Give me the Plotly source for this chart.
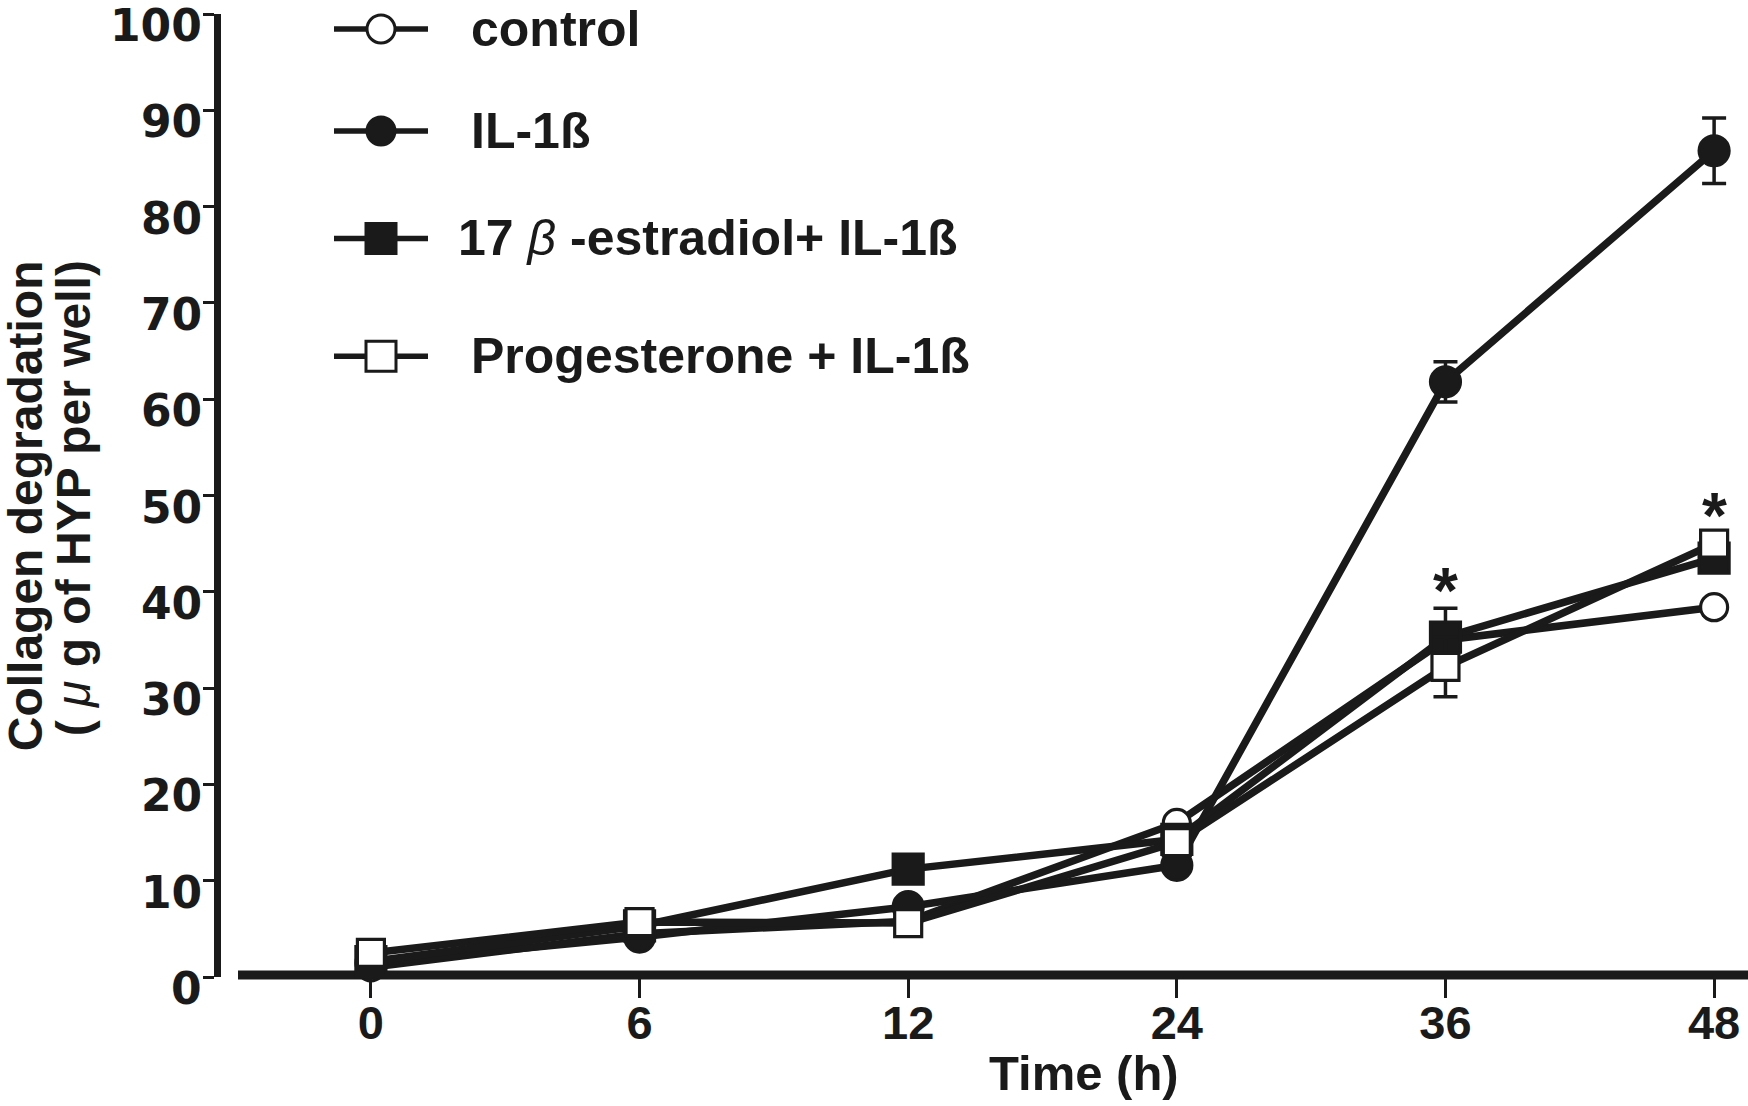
import plotly.graph_objects as go

# ---------------- data ----------------
times = ["0", "6", "12", "24", "36", "48"]
control = [1.0, 4.5, 5.8, 16.0, 35.0, 38.4]
control_err = [0, 0, 0, 0, 0, 0.8]
il1b = [1.45, 4.15, 7.3, 11.6, 61.8, 85.8]
il1b_err = [0, 0, 0, 0, 2.1, 3.4]
estradiol = [1.6, 5.3, 11.2, 14.3, 35.3, 43.5]
estradiol_err = [0, 0, 0, 0, 3.0, 1.0]
progesterone = [2.5, 5.7, 5.6, 14.0, 32.2, 45.0]
progesterone_err = [0, 0, 0, 0, 3.1, 0]
series_names = ["control", "IL-1ß", "17 β -estradiol+ IL-1ß", "Progesterone + IL-1ß"]
star_times = ["36", "48"]
star_values = [41.5, 49.3]
y_ticks = [0, 10, 20, 30, 40, 50, 60, 70, 80, 90, 100]
y_tick_labels = [str(v) for v in y_ticks]

# ---------------- layout geometry ----------------
W, H = 1748, 1106
L, R, T, B = 221, 3, 13.5, 129
PW, PH = W - L - R, H - T - B
INK = "#1a1a1a"
FONT = "Liberation Sans, Arial, sans-serif"
YFONT = "DejaVu Sans, Liberation Sans, sans-serif"


def px_x(px):
    return (px - L) / PW


def px_y(py):
    return (H - B - py) / PH


styles = [
    dict(symbol="circle", fill="white", size=27),
    dict(symbol="circle", fill=INK, size=30),
    dict(symbol="square", fill=INK, size=30),
    dict(symbol="square", fill="white", size=27),
]
values = [control, il1b, estradiol, progesterone]
errors = [control_err, il1b_err, estradiol_err, progesterone_err]

fig = go.Figure()
for name, vals, errs, st in zip(series_names, values, errors, styles):
    fig.add_trace(go.Scatter(
        x=times, y=vals, name=name, mode="lines+markers",
        line=dict(color=INK, width=7.5),
        marker=dict(symbol=st["symbol"], size=st["size"], color=st["fill"],
                    line=dict(color=INK, width=3.2)),
        error_y=dict(type="data", array=errs, visible=True, color=INK,
                     thickness=3.5, width=12),
        cliponaxis=False, showlegend=False,
    ))

annotations = []

# y tick labels (placed a touch below their ticks, as in the original)
for v, lab in zip(y_ticks, y_tick_labels):
    annotations.append(dict(
        x=px_x(204), y=v, xref="paper", yref="y", text=lab,
        showarrow=False, font=dict(family=YFONT, size=44, color=INK, weight="bold"),
        xanchor="right", yanchor="middle", yshift=-11, height=36, valign="middle",
    ))

# significance stars
for t, v in zip(star_times, star_values):
    annotations.append(dict(
        x=times.index(t), y=v, xref="x", yref="y", text="<b>*</b>",
        showarrow=False, font=dict(family=FONT, size=64, color=INK),
        xanchor="center", yanchor="middle", yshift=-14,
    ))

# axis titles
annotations.append(dict(
    x=px_x(1084), y=px_y(1073), xref="paper", yref="paper",
    text="<b>Time (h)</b>", showarrow=False,
    font=dict(family=FONT, size=49, color=INK), xanchor="center", yanchor="middle",
))
annotations.append(dict(
    x=px_x(25), y=px_y(505), xref="paper", yref="paper", textangle=-90,
    text="<b>Collagen degradation</b>", showarrow=False,
    font=dict(family=FONT, size=48, color=INK), xanchor="center", yanchor="middle",
))
annotations.append(dict(
    x=px_x(73), y=px_y(498), xref="paper", yref="paper", textangle=-90,
    text="<b>( </b><i>μ</i><b> g of HYP per well)</b>", showarrow=False,
    font=dict(family=FONT, size=48, color=INK), xanchor="center", yanchor="middle",
))

# custom legend (keys drawn as shapes, labels as annotations)
shapes = []
legend_y = [28.5, 130.5, 238, 356]
legend_text_x = [469, 469, 456, 469]
legend_labels = [
    "<b>control</b>",
    "<b>IL-1ß</b>",
    "<b>17 </b><i>β</i><b> -estradiol+ IL-1ß</b>",
    "<b>Progesterone + IL-1ß</b>",
]
for ly, lx, lab, st in zip(legend_y, legend_text_x, legend_labels, styles):
    shapes.append(dict(type="line", xref="paper", yref="paper",
                       x0=px_x(334), x1=px_x(428), y0=px_y(ly), y1=px_y(ly),
                       line=dict(color=INK, width=5.5)))
    half = 15 if st["symbol"] == "square" else 14
    shapes.append(dict(type="rect" if st["symbol"] == "square" else "circle",
                       xref="paper", yref="paper",
                       xsizemode="pixel", ysizemode="pixel",
                       xanchor=px_x(381), yanchor=px_y(ly),
                       x0=-half, x1=half, y0=-half, y1=half,
                       fillcolor=st["fill"], line=dict(color=INK, width=3)))
    annotations.append(dict(
        x=px_x(lx), y=px_y(ly), xref="paper", yref="paper", text=lab,
        showarrow=False, font=dict(family=FONT, size=50, color=INK),
        xanchor="left", yanchor="middle",
    ))

# thick x-axis line (starts a little right of the y axis, as in the original)
shapes.append(dict(type="line", xref="paper", yref="paper", layer="below",
                   x0=px_x(238), x1=px_x(1750), y0=px_y(975), y1=px_y(975),
                   line=dict(color=INK, width=9)))

fig.update_layout(
    width=W, height=H, autosize=False,
    margin=dict(l=L, r=R, t=T, b=B, pad=0, autoexpand=False),
    paper_bgcolor="white", plot_bgcolor="white",
    showlegend=False,
    annotations=annotations, shapes=shapes,
    xaxis=dict(
        type="category", range=[-0.558, 5.115], automargin=False,
        showline=False, showgrid=False, zeroline=False,
        ticks="outside", ticklen=20, tickwidth=2.5, tickcolor=INK,
        tickfont=dict(family=FONT, size=47, color=INK, weight="bold"),
        ticklabelstandoff=-15,
    ),
    yaxis=dict(
        range=[0, 100], tickvals=y_ticks, automargin=False,
        showline=True, linewidth=7, linecolor=INK,
        showgrid=False, zeroline=False, showticklabels=False,
        ticks="outside", ticklen=11, tickwidth=2.5, tickcolor=INK,
    ),
)

fig.write_html("out.html", config={"displayModeBar": False},
               post_script="document.body.style.margin='0';")
